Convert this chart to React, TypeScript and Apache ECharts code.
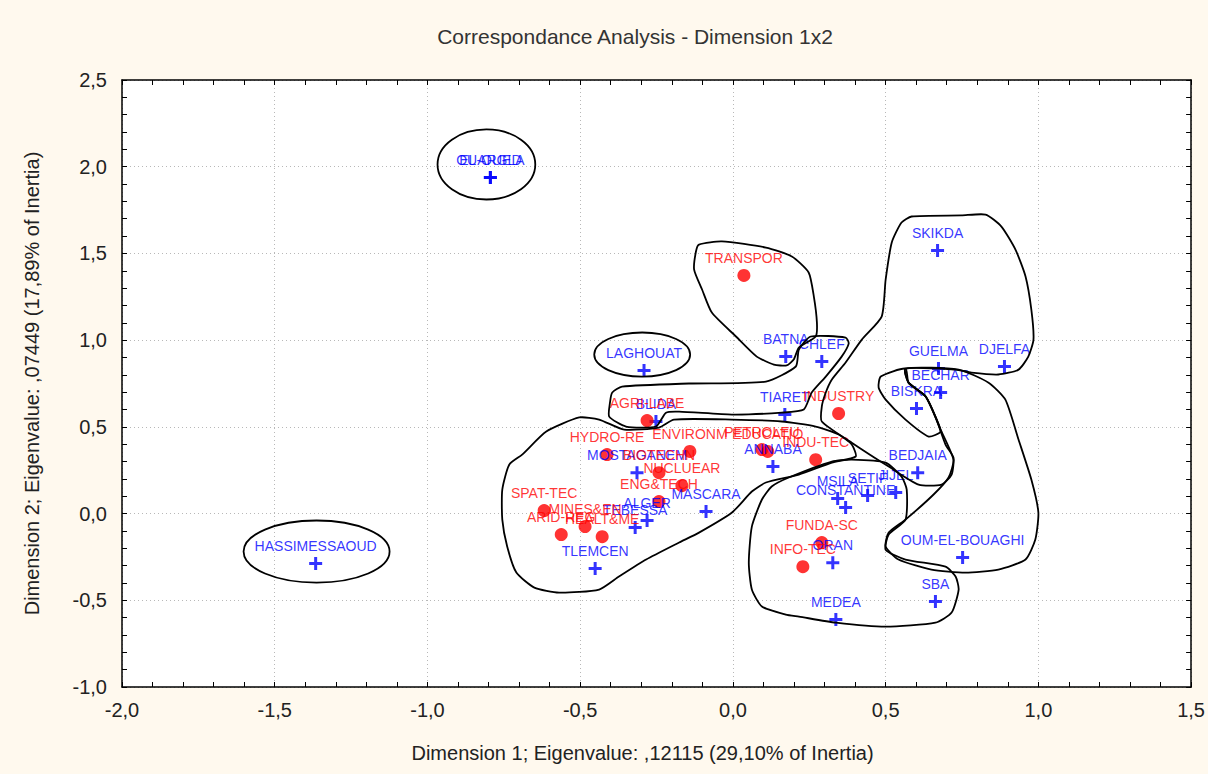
import React, { useEffect, useRef } from "react";
import * as echarts from "echarts";

// Column points (blue crosses)
const colNames = ["EL-OUED", "OUARGLA", "HASSIMESSAOUD", "LAGHOUAT", "SKIKDA", "DJELFA", "GUELMA", "BECHAR", "BISKRA", "BEDJAIA", "JIJEL", "SETIF", "MSILA", "CONSTANTINE", "ORAN", "MEDEA", "SBA", "OUM-EL-BOUAGHI", "BATNA", "CHLEF", "TIARET", "ANNABA", "BLIDA", "MOSTAGANEM", "ALGER", "TEBESSA", "MASCARA", "TLEMCEN"];
const colX = [-0.794, -0.794, -1.366, -0.291, 0.670, 0.889, 0.673, 0.680, 0.601, 0.605, 0.533, 0.441, 0.343, 0.369, 0.327, 0.337, 0.663, 0.752, 0.173, 0.291, 0.170, 0.131, -0.252, -0.314, -0.281, -0.320, -0.088, -0.451];
const colY = [1.938, 1.938, -0.288, 0.825, 1.517, 0.848, 0.836, 0.698, 0.606, 0.236, 0.121, 0.104, 0.087, 0.035, -0.283, -0.611, -0.507, -0.254, 0.905, 0.877, 0.571, 0.271, 0.531, 0.236, -0.040, -0.081, 0.012, -0.317];

// Row points (red dots)
const rowNames = ["TRANSPOR", "INDUSTRY", "AGRI-LABE", "HYDRO-RE", "ENVIRONM", "BIOTECHN", "NUCLUEAR", "ENG&TECH", "SPAT-TEC", "MINES&EN", "ARID-REG", "HEALT&ME", "PETROLEU", "EDUCATIO", "INDU-TEC", "FUNDA-SC", "INFO-TEC"];
const rowX = [0.036, 0.346, -0.281, -0.412, -0.141, -0.242, -0.167, -0.242, -0.618, -0.484, -0.562, -0.428, 0.095, 0.114, 0.271, 0.291, 0.229];
const rowY = [1.373, 0.577, 0.536, 0.340, 0.358, 0.236, 0.161, 0.069, 0.017, -0.075, -0.121, -0.133, 0.369, 0.358, 0.311, -0.167, -0.306];

// Ellipse annotations: center x, center y, radius x, radius y (data units)
const ellipses = [
  [-0.807, 2.013, 0.160, 0.202],
  [-0.297, 0.917, 0.157, 0.127],
  [-1.363, -0.219, 0.239, 0.179],
];

// Hand-drawn cluster outlines (data units)
const contourTranspor = [[-0.111, 1.551], [-0.036, 1.569], [0.108, 1.534], [0.193, 1.482], [0.248, 1.390], [0.265, 1.251], [0.275, 1.101], [0.271, 1.021], [0.216, 0.957], [0.199, 0.888], [0.176, 0.854], [0.134, 0.859], [0.078, 0.905], [0.010, 1.021], [-0.069, 1.159], [-0.101, 1.292], [-0.127, 1.407], [-0.121, 1.511]];
const contourTiaret = [[-0.395, 0.698], [-0.363, 0.732], [-0.144, 0.750], [0.108, 0.761], [0.206, 0.848], [0.216, 0.946], [0.255, 1.021], [0.369, 1.015], [0.379, 0.980], [0.356, 0.905], [0.304, 0.790], [0.258, 0.698], [0.232, 0.600], [0.160, 0.582], [-0.003, 0.571], [-0.176, 0.588], [-0.219, 0.582], [-0.252, 0.502], [-0.350, 0.502], [-0.405, 0.559], [-0.402, 0.646]];
const contourWest = [[-0.755, 0.138], [-0.732, 0.283], [-0.690, 0.340], [-0.611, 0.473], [-0.503, 0.554], [-0.438, 0.542], [-0.356, 0.484], [-0.242, 0.496], [-0.193, 0.542], [-0.003, 0.542], [0.160, 0.531], [0.271, 0.502], [0.346, 0.456], [0.389, 0.398], [0.402, 0.329], [0.324, 0.294], [0.216, 0.225], [0.108, 0.179], [0.062, 0.127], [-0.003, 0.006], [-0.111, -0.110], [-0.176, -0.167], [-0.284, -0.265], [-0.373, -0.363], [-0.438, -0.438], [-0.569, -0.456], [-0.650, -0.427], [-0.709, -0.340], [-0.739, -0.190], [-0.755, -0.035]];
const contourOran = [[0.095, 0.081], [0.127, 0.156], [0.183, 0.208], [0.324, 0.300], [0.389, 0.311], [0.500, 0.294], [0.552, 0.213], [0.569, 0.138], [0.565, -0.035], [0.510, -0.121], [0.500, -0.208], [0.565, -0.265], [0.696, -0.306], [0.729, -0.363], [0.739, -0.438], [0.716, -0.571], [0.663, -0.629], [0.500, -0.652], [0.337, -0.629], [0.216, -0.594], [0.173, -0.582], [0.095, -0.536], [0.062, -0.438], [0.052, -0.283], [0.062, -0.075]];
const contourSkikda = [[0.585, 1.713], [0.748, 1.719], [0.827, 1.724], [0.879, 1.655], [0.925, 1.522], [0.958, 1.367], [0.977, 1.176], [0.984, 1.003], [0.967, 0.905], [0.935, 0.830], [0.869, 0.802], [0.781, 0.813], [0.729, 0.830], [0.565, 0.836], [0.575, 0.755], [0.631, 0.675], [0.663, 0.559], [0.696, 0.398], [0.722, 0.323], [0.716, 0.225], [0.683, 0.167], [0.608, 0.167], [0.510, 0.271], [0.389, 0.409], [0.291, 0.531], [0.291, 0.617], [0.304, 0.698], [0.324, 0.773], [0.369, 0.871], [0.422, 1.003], [0.487, 1.136], [0.500, 1.349], [0.520, 1.563], [0.552, 1.678]];
const contourBiskra = [[0.477, 0.727], [0.484, 0.790], [0.565, 0.836], [0.575, 0.755], [0.631, 0.675], [0.663, 0.559], [0.680, 0.473], [0.641, 0.444], [0.565, 0.542], [0.500, 0.657]];
const contourOum = [[0.565, 0.836], [0.739, 0.830], [0.837, 0.755], [0.892, 0.657], [0.935, 0.427], [0.977, 0.196], [1.000, 0.006], [0.990, -0.150], [0.958, -0.265], [0.869, -0.323], [0.761, -0.340], [0.650, -0.323], [0.542, -0.265], [0.500, -0.190], [0.510, -0.110], [0.565, -0.035], [0.657, 0.110], [0.706, 0.208], [0.722, 0.311], [0.680, 0.484], [0.631, 0.675], [0.575, 0.755]];
const contours = [contourTranspor, contourTiaret, contourWest, contourOran, contourSkikda, contourBiskra, contourOum];

const FONT = "Liberation Sans, Arial, sans-serif";
const fmt = (v: number) => v.toFixed(1).replace(".", ",");

export default function App() {
  const ref = useRef<HTMLDivElement>(null);
  useEffect(() => {
    if (!ref.current) return;
    const chart = echarts.init(ref.current, null, { renderer: "svg" });
    const axisCommon = {
      type: "value",
      interval: 0.5,
      axisLine: { show: true, onZero: false, lineStyle: { color: "#000", width: 1.5 } },
      axisTick: { show: true, inside: true, length: 5, lineStyle: { color: "#000", width: 1 } },
      minorTick: { show: true, splitNumber: 5, length: 5, lineStyle: { color: "#000", width: 1 } },
    };
    const contourSeries = contours.map((c) => ({
      type: "custom",
      silent: true,
      clip: false,
      z: 3,
      data: c,
      encode: { x: 0, y: 1 },
      renderItem: (params: any, api: any) => {
        if (params.dataIndex !== 0) return null;
        const pts = c.map((p) => api.coord(p));
        return {
          type: "polygon",
          shape: { points: pts, smooth: 0.2 },
          style: { fill: "none", stroke: "#000", lineWidth: 1.8 },
        };
      },
    }));
    chart.setOption({
      animation: false,
      backgroundColor: "#FFF9EE",
      grid: { left: 122, top: 80, width: 1071, height: 607, show: true, backgroundColor: "#fff", borderWidth: 0 },
      graphic: [
        {
          type: "text",
          x: 635,
          y: 36,
          style: { text: "Correspondance Analysis - Dimension 1x2", font: `21px ${FONT}`, fill: "#333", textAlign: "center", textVerticalAlign: "middle" },
        },
      ],
      xAxis: [
        {
          ...axisCommon,
          min: -2,
          max: 1.5,
          position: "bottom",
          splitLine: { show: true, lineStyle: { color: "#b8b8b8", type: [1, 3], width: 1 } },
          axisLabel: { formatter: fmt, fontSize: 20, color: "#222", margin: 13, fontFamily: FONT },
          name: "Dimension 1; Eigenvalue: ,12115 (29,10% of Inertia)",
          nameLocation: "middle",
          nameGap: 56,
          nameTextStyle: { fontSize: 20, color: "#222", fontFamily: FONT, padding: [0, 28, 0, 0] },
        },
        {
          ...axisCommon,
          min: -2,
          max: 1.5,
          position: "top",
          splitLine: { show: false },
          axisLabel: { show: false },
        },
      ],
      yAxis: [
        {
          ...axisCommon,
          min: -1,
          max: 2.5,
          position: "left",
          splitLine: { show: true, lineStyle: { color: "#b8b8b8", type: [1, 3], width: 1 } },
          axisLabel: { formatter: fmt, fontSize: 20, color: "#222", margin: 15, fontFamily: FONT },
          name: "Dimension 2; Eigenvalue: ,07449 (17,89% of Inertia)",
          nameLocation: "middle",
          nameGap: 80,
          nameTextStyle: { fontSize: 20, color: "#222", fontFamily: FONT },
        },
        {
          ...axisCommon,
          min: -1,
          max: 2.5,
          position: "right",
          splitLine: { show: false },
          axisLabel: { show: false },
        },
      ],
      series: [
        {
          type: "scatter",
          z: 2,
          symbol: "path://M5,0h3v5h5v3h-5v5h-3v-5h-5v-3h5z",
          symbolSize: 13,
          itemStyle: { color: "#0000ff" },
          label: { show: true, position: "top", distance: 4, color: "#0000ff", fontSize: 14, fontFamily: FONT, formatter: (p: any) => p.name },
          data: colNames.map((n, i) => ({ name: n, value: [colX[i], colY[i]] })),
        },
        {
          type: "scatter",
          z: 2,
          symbol: "circle",
          symbolSize: 13,
          itemStyle: { color: "#ff0000" },
          label: { show: true, position: "top", distance: 4, color: "#ff0000", fontSize: 14, fontFamily: FONT, formatter: (p: any) => p.name },
          data: rowNames.map((n, i) => ({ name: n, value: [rowX[i], rowY[i]] })),
        },
        {
          type: "custom",
          silent: true,
          clip: false,
          z: 3,
          data: ellipses,
          encode: { x: 0, y: 1 },
          renderItem: (params: any, api: any) => {
            const c = api.coord([api.value(0), api.value(1)]);
            const s = api.size([api.value(2), api.value(3)]);
            return {
              type: "ellipse",
              shape: { cx: c[0], cy: c[1], rx: s[0], ry: s[1] },
              style: { fill: "none", stroke: "#000", lineWidth: 1.8 },
            };
          },
        },
        ...contourSeries,
      ],
    });
    return () => chart.dispose();
  }, []);
  return <div ref={ref} style={{ position: "fixed", left: 0, top: 0, width: 1208, height: 774 }} />;
}
